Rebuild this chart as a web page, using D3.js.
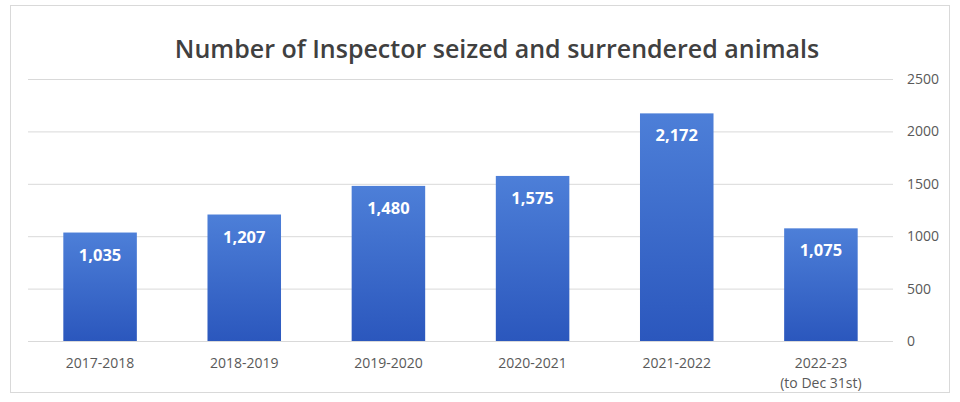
<!DOCTYPE html>
<html><head><meta charset="utf-8">
<script src="https://cdn.jsdelivr.net/npm/d3@7"></script>
<style>body{margin:0;background:#fff;}svg{display:block;}</style>
</head><body>
<svg id="c" width="960" height="402"></svg>
<script>
const categories = ["2017-2018","2018-2019","2019-2020","2020-2021","2021-2022","2022-23|(to Dec 31st)"];
const values = [1035,1207,1480,1575,2172,1075];
const yTicks = [0,500,1000,1500,2000,2500];
const title = "Number of Inspector seized and surrendered animals";

const svg = d3.select("#c");
const font = "'Open Sans', sans-serif";
const defs = svg.append("defs");
const g = defs.append("linearGradient").attr("id","bg").attr("x1",0).attr("y1",0).attr("x2",0).attr("y2",1);
g.append("stop").attr("offset","0%").attr("stop-color","#4d7fd8");
g.append("stop").attr("offset","100%").attr("stop-color","#2b57bd");

svg.append("rect").attr("x",10.5).attr("y",5.5).attr("width",939).attr("height",387)
  .attr("fill","#fff").attr("stroke","#d9d9d9");

const x = d3.scaleBand().domain(categories).range([28,893]).paddingInner(0.49).paddingOuter(0.245);
const y = d3.scaleLinear().domain([0,2500]).range([341,79]);

svg.append("text").attr("x",497).attr("y",58).attr("text-anchor","middle")
  .attr("font-family",font).attr("font-weight",600).attr("font-size",25).attr("fill","#404040").text(title);

const yAxis = d3.axisRight(y).tickValues(yTicks).tickSize(-865).tickPadding(14).tickFormat(d3.format("d"));
const ya = svg.append("g").attr("transform","translate(893,0)").call(yAxis);
ya.select(".domain").remove();
ya.selectAll(".tick line").attr("stroke","#d9d9d9");
ya.selectAll(".tick text").attr("font-family",font).attr("font-size",14).attr("fill","#595959");

const xAxis = d3.axisBottom(x).tickSize(0).tickPadding(0);
const xa = svg.append("g").attr("transform","translate(0,341)").call(xAxis);
xa.select(".domain").remove();
xa.selectAll(".tick text").remove();
xa.selectAll(".tick").each(function(d){
  const t = d3.select(this).append("text").attr("fill","#595959").attr("font-family",font).attr("font-size",14).attr("text-anchor","middle");
  d.split("|").forEach((s,i)=>t.append("tspan").attr("x",0).attr("y",27+i*20).text(s));
});

svg.append("line").attr("x1",28).attr("x2",893).attr("y1",y(0)+0.5).attr("y2",y(0)+0.5).attr("stroke","#d9d9d9");

svg.selectAll("rect.bar").data(values).enter().append("rect").attr("class","bar")
  .attr("x",(d,i)=>x(categories[i])).attr("width",x.bandwidth())
  .attr("y",d=>y(d)).attr("height",d=>y(0)-y(d)).attr("fill","url(#bg)");

svg.selectAll("text.val").data(values).enter().append("text").attr("class","val")
  .attr("x",(d,i)=>x(categories[i])+x.bandwidth()/2).attr("y",d=>y(d)+28)
  .attr("text-anchor","middle").attr("font-family",font).attr("font-weight",700).attr("font-size",16.5)
  .attr("fill","#fff").text(d=>d3.format(",")(d));
</script>
</body></html>
